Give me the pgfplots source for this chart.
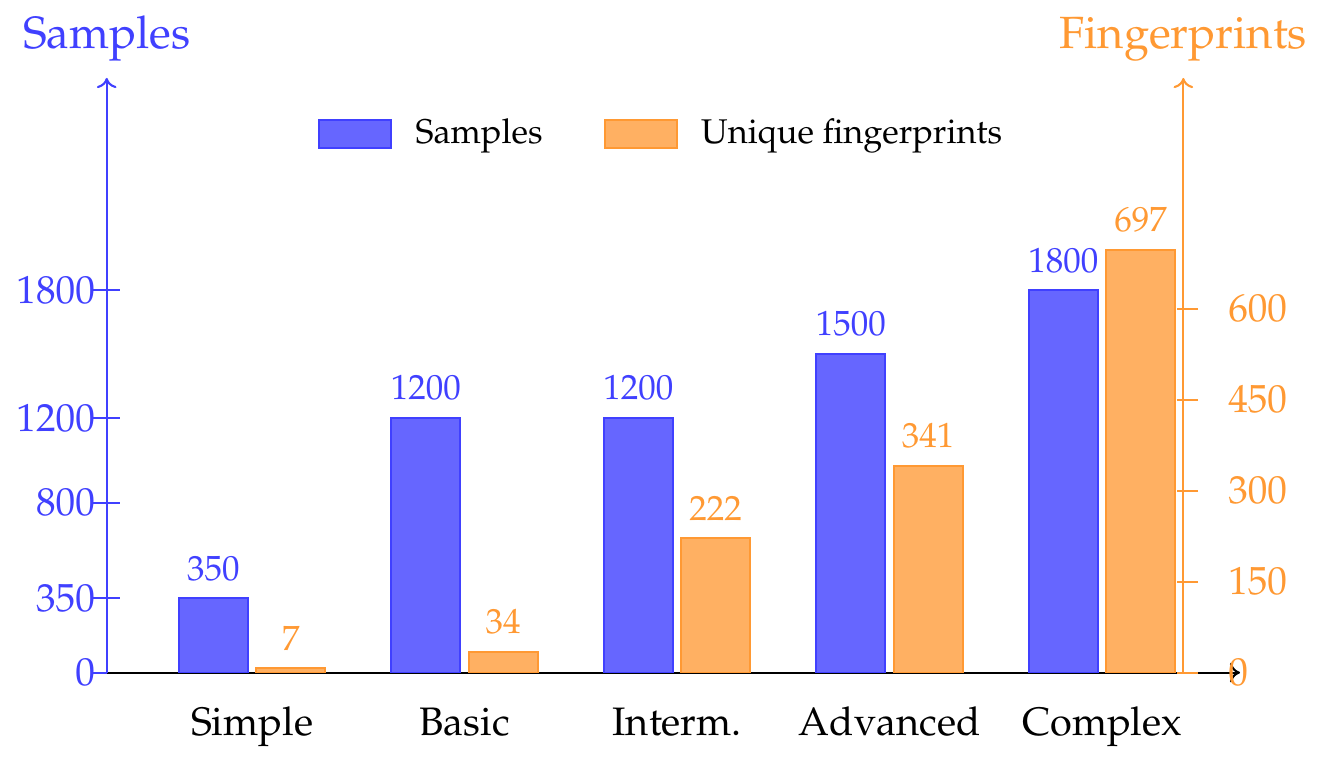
\documentclass[border=0pt]{standalone}
\usepackage[T1]{fontenc}
\usepackage{mathpazo}
\usepackage{pgfplots}
\pgfplotsset{compat=1.18}
\usetikzlibrary{arrows.meta}
\definecolor{sblue}{RGB}{102,102,255}
\definecolor{sblueline}{RGB}{64,64,255}
\definecolor{forange}{RGB}{255,176,98}
\definecolor{forangeline}{RGB}{255,153,51}
\pgfkeys{/pgf/number format/1000 sep={}}
\begin{document}
\begin{tikzpicture}
\useasboundingbox (-30.49pt,-24.97pt) rectangle (346.65pt,192.17pt);
\begin{axis}[
  scale only axis, width=323.8pt, height=169.9pt,
  at={(0pt,0pt)}, anchor=south west,
  xmin=-0.684, xmax=4.649, ymin=0, ymax=2800,
  axis x line=bottom, axis y line=left,
  x axis line style={black, line width=0.6pt, -{To[width=5.6pt,length=2.9pt]}},
  y axis line style={sblueline, line width=0.6pt, -{To[width=5.6pt,length=2.9pt]}},
  ytick={0,350,800,1200,1800},
  xtick={0,1,2,3,4},
  xticklabels={Simple,Basic,Interm.,Advanced,Complex},
  xtick style={draw=none},
  ytick style={sblueline, line width=0.6pt},
  tick align=center, major tick length=7.7pt,
  scaled y ticks=false,
  yticklabel style={text=sblueline, font=\fontsize{11.2}{13}\selectfont, anchor=east, xshift=4pt},
  xticklabel style={font=\fontsize{11.35}{14}\selectfont, anchor=base, yshift=-14.1pt},
  xticklabel shift=0pt,
  ylabel={Samples},
  every axis y label/.style={at={(rel axis cs:0,1)}, anchor=base, yshift=8.3pt, font=\fontsize{12.9}{15}\selectfont, text=sblueline},
  legend style={at={(0.4915,0.9058)}, anchor=center, draw=none, fill=none, font=\fontsize{9.8}{12}\selectfont,
    /tikz/every even column/.append style={column sep=15.5pt}},
  legend columns=2,
]
\addplot[ybar, bar width=19.7pt, bar shift=-11.06pt, draw=sblueline, fill=sblue, line width=0.6pt,
  nodes near coords, nodes near coords style={font=\fontsize{10}{12}\selectfont, text=sblueline, xshift=-11.06pt, yshift=1.4pt},
  forget plot]
  coordinates {(0,350) (1,1200) (2,1200) (3,1500) (4,1800)};
\addlegendimage{legend image code/.code={\draw[sblueline,fill=sblue,line width=0.6pt] (0pt,-4pt) rectangle (20.6pt,4pt); \path[draw=none,fill=none] (20.6pt,0pt) -- (25.5pt,0pt);}}
\addlegendentry{Samples}
\addlegendimage{legend image code/.code={\draw[forangeline,fill=forange,line width=0.6pt] (0pt,-4pt) rectangle (20.6pt,4pt); \path[draw=none,fill=none] (20.6pt,0pt) -- (25.5pt,0pt);}}
\addlegendentry{Unique fingerprints}
\end{axis}
\begin{axis}[
  scale only axis, width=307.6pt, height=169.9pt,
  at={(0pt,0pt)}, anchor=south west,
  xmin=-0.684, xmax=4.383, ymin=0, ymax=980,
  axis y line*=right, axis x line=none,
  y axis line style={forangeline, line width=0.6pt, -{To[width=5.6pt,length=2.9pt]}},
  ytick={0,150,300,450,600},
  ytick style={forangeline, line width=0.6pt, xshift=1.2pt},
  tick align=center, major tick length=6pt,
  scaled y ticks=false,
  yticklabel style={text=forangeline, font=\fontsize{11.2}{13}\selectfont, anchor=west, xshift=6.3pt},
  ylabel={Fingerprints},
  every axis y label/.style={at={(rel axis cs:1,1)}, anchor=base, yshift=8.3pt, font=\fontsize{12.9}{15}\selectfont, text=forangeline},
]
\addplot[ybar, bar width=19.7pt, bar shift=11.06pt, draw=forangeline, fill=forange, line width=0.6pt,
  nodes near coords, nodes near coords style={font=\fontsize{10}{12}\selectfont, text=forangeline, xshift=11.06pt, yshift=1.4pt}]
  coordinates {(0,7) (1,34) (2,222) (3,341) (4,697)};
\end{axis}
\end{tikzpicture}
\end{document}
